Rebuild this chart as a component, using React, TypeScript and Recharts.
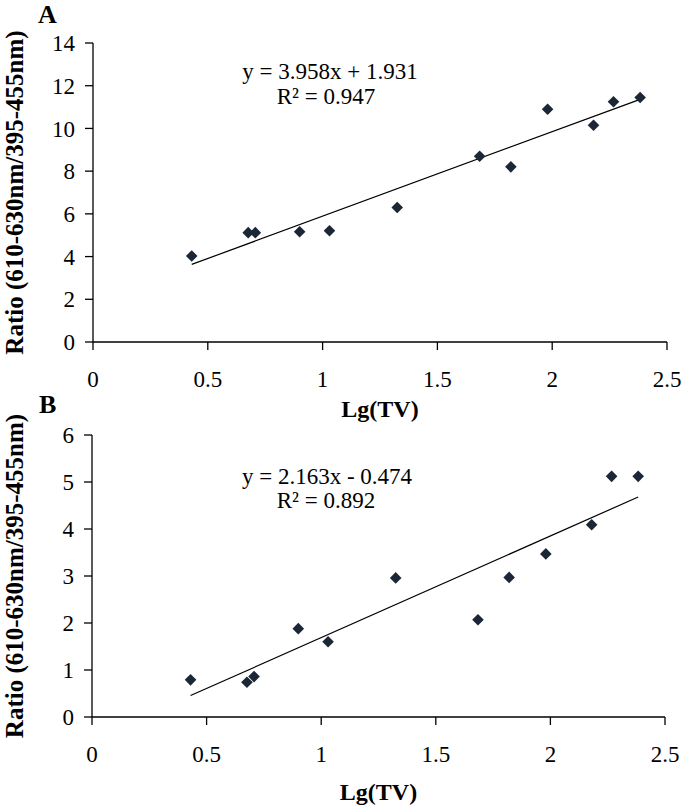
import React from 'react';
import { ScatterChart, Scatter, XAxis, YAxis, ReferenceLine, Label } from 'recharts';

const lgTV = [0.43, 0.676, 0.707, 0.9, 1.03, 1.325, 1.684, 1.82, 1.98, 2.18, 2.267, 2.383];
const ratioA = [4.03, 5.12, 5.12, 5.16, 5.21, 6.3, 8.7, 8.2, 10.9, 10.15, 11.25, 11.45];
const ratioB = [0.79, 0.74, 0.86, 1.88, 1.6, 2.96, 2.07, 2.97, 3.47, 4.09, 5.12, 5.12];
const fitA = { slope: 3.958, intercept: 1.931, r2: 0.947 };
const fitB = { slope: 2.163, intercept: -0.474, r2: 0.892 };
const xTicks = [0, 0.5, 1, 1.5, 2, 2.5];
const yTicksA = [0, 2, 4, 6, 8, 10, 12, 14];
const yTicksB = [0, 1, 2, 3, 4, 5, 6];
const xTitle = 'Lg(TV)';
const yTitle = 'Ratio (610-630nm/395-455nm)';

const FONT = '"Liberation Serif", "Times New Roman", serif';
const MARK = '#1b2636';

const Diamond = (props: any) => {
  const { cx, cy } = props;
  const r = 5.8;
  return <path d={`M${cx},${cy - r}L${cx + r},${cy}L${cx},${cy + r}L${cx - r},${cy}Z`} fill={MARK} />;
};

const fmt = (v: number) => v.toFixed(3);
const eq = (f: { slope: number; intercept: number }) =>
  `y = ${fmt(f.slope)}x ${f.intercept < 0 ? '-' : '+'} ${fmt(Math.abs(f.intercept))}`;

type PanelProps = {
  ratio: number[];
  fit: { slope: number; intercept: number; r2: number };
  yTicks: number[];
  height: number;
  margin: { top: number; right: number; left: number; bottom: number };
  yWidth: number;
  xHeight: number;
  xLabelOffset: number;
};

const Panel = ({ ratio, fit, yTicks, height, margin, yWidth, xHeight, xLabelOffset }: PanelProps) => {
  const data = lgTV.map((x, i) => ({ x, y: ratio[i] }));
  const xMin = Math.min(...lgTV);
  const xMax = Math.max(...lgTV);
  const seg = [
    { x: xMin, y: fit.slope * xMin + fit.intercept },
    { x: xMax, y: fit.slope * xMax + fit.intercept },
  ];
  const tickStyle = { fontFamily: FONT, fontSize: 23, fill: '#000' };
  return (
    <ScatterChart width={685} height={height} margin={margin}>
      <XAxis
        type="number"
        dataKey="x"
        domain={[0, 2.5]}
        ticks={xTicks}
        interval={0}
        tick={tickStyle}
        tickSize={8}
        tickMargin={21}
        stroke="#000"
        strokeWidth={1.3}
        height={xHeight}
      >
        <Label
          value={xTitle}
          position="insideBottom"
          offset={xLabelOffset}
          style={{ fontFamily: FONT, fontSize: 24, fontWeight: 'bold', fill: '#000' }}
        />
      </XAxis>
      <YAxis
        type="number"
        dataKey="y"
        domain={[yTicks[0], yTicks[yTicks.length - 1]]}
        ticks={yTicks}
        interval={0}
        tick={tickStyle}
        tickSize={8}
        tickMargin={10}
        stroke="#000"
        strokeWidth={1.3}
        width={yWidth}
      >
        <Label
          value={yTitle}
          position="insideLeft"
          angle={-90}
          offset={14}
          style={{ fontFamily: FONT, fontSize: 25, fontWeight: 'bold', fill: '#000', textAnchor: 'middle' }}
        />
      </YAxis>
      <ReferenceLine segment={seg} stroke="#000" strokeWidth={1.2} ifOverflow="visible" />
      <Scatter data={data} shape={Diamond} isAnimationActive={false} />
    </ScatterChart>
  );
};

export default function App() {
  const eqStyle: React.CSSProperties = { fontFamily: FONT, fontSize: 23, fill: '#000' };
  const panelLetter: React.CSSProperties = { fontFamily: FONT, fontSize: 26, fontWeight: 'bold', fill: '#000' };
  return (
    <div style={{ position: 'absolute', left: 0, top: 0, width: 685, height: 809, background: '#fff' }}>
      <div style={{ position: 'absolute', left: 0, top: 0 }}>
        <Panel
          ratio={ratioA}
          fit={fitA}
          yTicks={yTicksA}
          height={430}
          margin={{ top: 43, right: 18, left: 0, bottom: 0 }}
          yWidth={93}
          xHeight={88}
          xLabelOffset={13}
        />
      </div>
      <div style={{ position: 'absolute', left: 0, top: 390 }}>
        <Panel
          ratio={ratioB}
          fit={fitB}
          yTicks={yTicksB}
          height={419}
          margin={{ top: 45, right: 20, left: 0, bottom: 0 }}
          yWidth={92}
          xHeight={92}
          xLabelOffset={9}
        />
      </div>
      <svg width={685} height={809} style={{ position: 'absolute', left: 0, top: 0, pointerEvents: 'none' }}>
        <text x={38} y={23} style={panelLetter}>A</text>
        <text x={39} y={413} style={panelLetter}>B</text>
        <text x={330} y={79} textAnchor="middle" style={eqStyle}>{eq(fitA)}</text>
        <text x={326} y={104} textAnchor="middle" style={eqStyle}>{`R² = ${fitA.r2}`}</text>
        <text x={327} y={484} textAnchor="middle" style={eqStyle}>{eq(fitB)}</text>
        <text x={326} y={508} textAnchor="middle" style={eqStyle}>{`R² = ${fitB.r2}`}</text>
      </svg>
    </div>
  );
}
